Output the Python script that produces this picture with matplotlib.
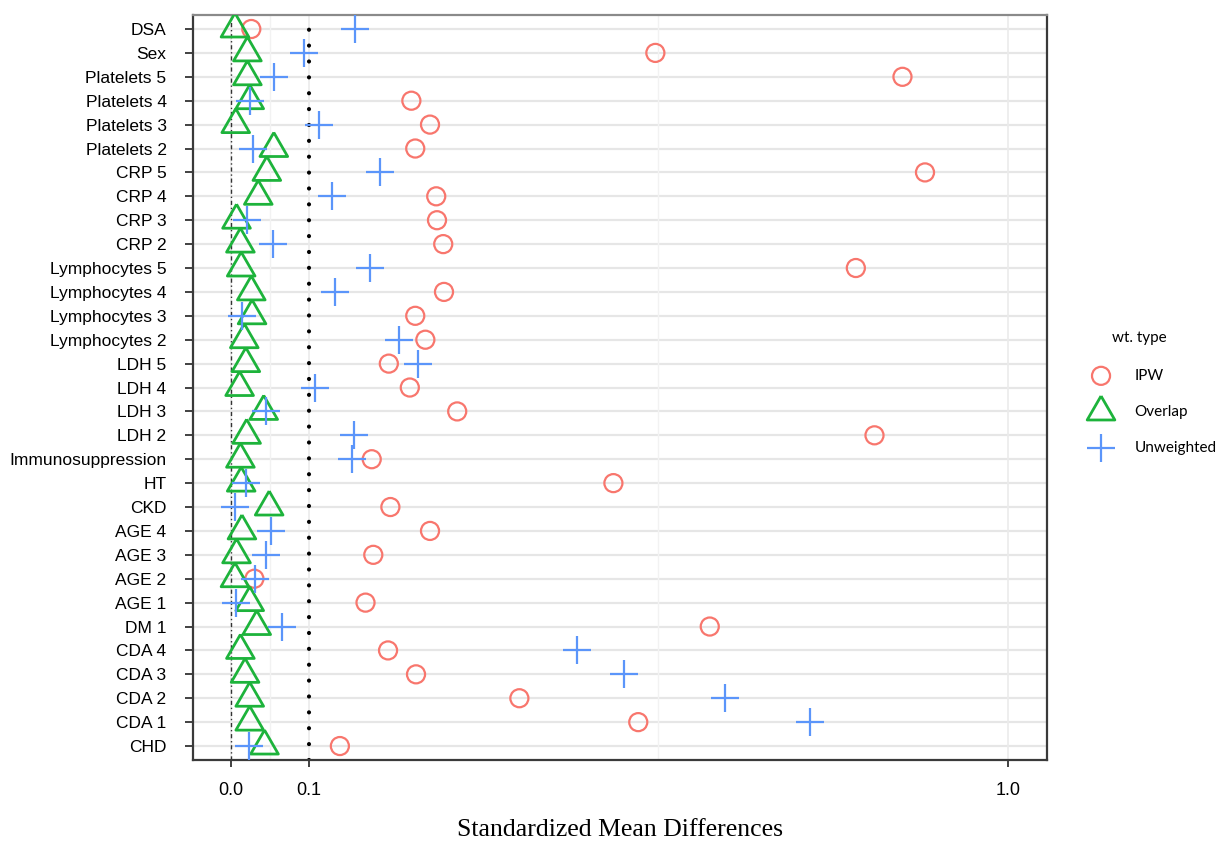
import matplotlib.pyplot as plt
import numpy as np

# Covariables (de arriba hacia abajo)
variables = ["DSA", "Sex", "Platelets 5", "Platelets 4", "Platelets 3", "Platelets 2",
             "CRP 5", "CRP 4", "CRP 3", "CRP 2", "Lymphocytes 5", "Lymphocytes 4",
             "Lymphocytes 3", "Lymphocytes 2", "LDH 5", "LDH 4", "LDH 3", "LDH 2",
             "Immunosuppression", "HT", "CKD", "AGE 4", "AGE 3", "AGE 2", "AGE 1",
             "DM 1", "CDA 4", "CDA 3", "CDA 2", "CDA 1", "CHD"]

# Diferencias de medias estandarizadas por tipo de ponderacion
ipw = [0.026, 0.546, 0.864, 0.232, 0.256, 0.237, 0.893, 0.264, 0.265, 0.273,
       0.804, 0.274, 0.237, 0.250, 0.203, 0.230, 0.291, 0.828, 0.181, 0.492,
       0.205, 0.256, 0.183, 0.030, 0.173, 0.616, 0.202, 0.238, 0.371, 0.524,
       0.140]
overlap = [0.005, 0.021, 0.021, 0.024, 0.006, 0.055, 0.046, 0.035, 0.007, 0.012,
           0.013, 0.026, 0.027, 0.017, 0.019, 0.011, 0.042, 0.020, 0.012, 0.013,
           0.049, 0.014, 0.007, 0.005, 0.024, 0.033, 0.012, 0.018, 0.024, 0.024,
           0.043]
unweighted = [0.160, 0.094, 0.055, 0.024, 0.113, 0.028, 0.191, 0.130, 0.020, 0.054,
              0.179, 0.134, 0.014, 0.216, 0.241, 0.108, 0.045, 0.158, 0.155, 0.019,
              0.005, 0.051, 0.045, 0.031, 0.006, 0.066, 0.445, 0.506, 0.636, 0.745,
              0.023]

x_ticks = [0.0, 0.1, 1.0]
x_ticklabels = ["0.0", "0.1", "1.0"]

c_ipw = "#F8766D"
c_overlap = "#1DB33B"
c_unw = "#5B95FA"

# triangulo equilatero centrado en su centroide (como ggplot)
tri = [(0, 0.577), (-0.5, -0.289), (0.5, -0.289), (0, 0.577)]

n = len(variables)
y = np.arange(n, 0, -1)

fig = plt.figure(figsize=(12.27, 8.44), dpi=100)
ax = fig.add_axes([0.1573, 0.0995, 0.6960, 0.8827])

# Rejilla
for yy in y:
    ax.axhline(yy, color="#E6E6E6", lw=1.6, zorder=0)
for xx in [0.0, 0.1, 1.0]:
    ax.axvline(xx, color="#EBEBEB", lw=1.2, zorder=0)
for xx in [0.05, 0.55]:
    ax.axvline(xx, color="#F2F2F2", lw=1.0, zorder=0)

# Lineas de referencia
ax.axvline(0.0, color="#333333", lw=1.0, ls=(0, (3, 2, 1, 2)), zorder=1)
ax.axvline(0.1, color="black", lw=3.0, ls=(0, (0.01, 3.8)),
           dash_capstyle="round", zorder=1)

ax.scatter(ipw, y, s=13**2, marker="o", facecolors="none", edgecolors=c_ipw,
           linewidths=1.6, label="IPW", zorder=3)
ax.scatter(overlap, y, s=23**2, marker=tri, facecolors="none", edgecolors=c_overlap,
           linewidths=2.0, label="Overlap", zorder=3)
ax.scatter(unweighted, y, s=20**2, marker="+", color=c_unw,
           linewidths=1.6, label="Unweighted", zorder=3)

ax.set_xlim(-0.049, 1.05)
ax.set_ylim(0.415, n + 0.585)
ax.set_xticks(x_ticks)
ax.set_xticklabels(x_ticklabels, fontfamily="Liberation Sans", fontsize=13)
ax.set_yticks(y)
ax.set_yticklabels(variables, fontfamily="Liberation Sans", fontsize=12.5)
ax.tick_params(axis="y", length=6, width=1.3, color="#333333", pad=13)
ax.tick_params(axis="x", length=5, width=1.3, color="#333333", pad=11)
ax.set_xlabel("Standardized Mean Differences", fontfamily="Liberation Serif",
              fontsize=18.5, labelpad=14)

for s in ax.spines.values():
    s.set_color("#3A3A3A")
    s.set_linewidth(1.6)
ax.spines["top"].set_color("#8A8A8A")

leg = ax.legend(loc="center left",
                bbox_to_anchor=(1072 / 1227, 1 - 412 / 844),
                bbox_transform=fig.transFigure, frameon=False,
                prop={"family": "Lato", "size": 11}, labelspacing=1.45,
                handletextpad=1.2, scatterpoints=1)
fig.text(1139 / 1227, 1 - 338 / 844, "wt. type", family="Lato", fontsize=11,
         ha="center", va="center")

fig.savefig("out.png", dpi=100)
